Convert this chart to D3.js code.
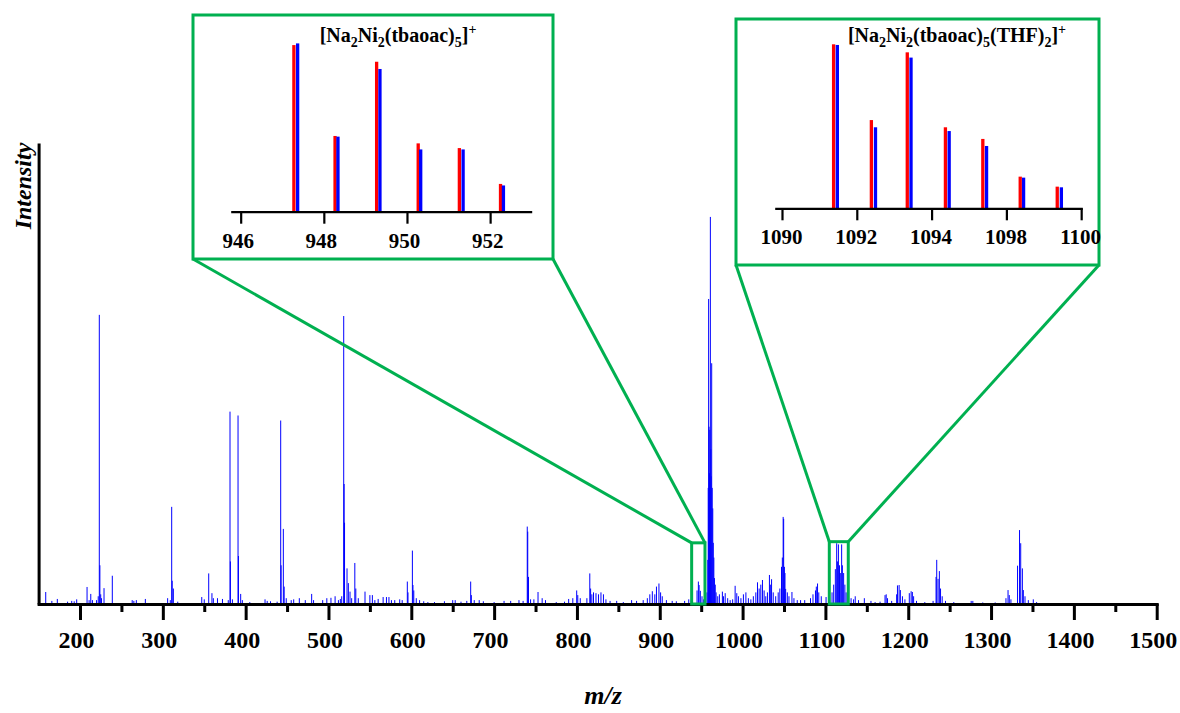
<!DOCTYPE html>
<html><head><meta charset="utf-8">
<script src="https://cdn.jsdelivr.net/npm/d3@7"></script>
<style>
html,body{margin:0;padding:0;background:#fff;}
svg{display:block;}
text{font-family:"Times New Roman","Liberation Serif",serif;font-weight:bold;fill:#000;}
</style></head>
<body>
<script>
// ---------------- DATA ----------------
// Main spectrum: m/z and relative intensity (% of base peak)
const mainMz = [158.6,166,172.6,185,190,193,196,208.5,211,213,215,
220,222,223.3,224,225,226,229,239,263,265,268,278.9,
305.8,309,310.7,311.3,312.7,318,347,350,355.4,359.3,361,366,372,379,
381.1,381.6,384,390.8,391.3,394,396,405,423.4,426,430,438,
442.3,442.8,445.5,446.5,449,455,458,464.8,472,479.7,482,493,498,
503,508,512,514.3,516,518.4,518.9,519.4,522.4,524,526,528,531.8,533,536,544.1,550,553,556,560,566,570,573,576,580,586,589,
595.2,596,601.3,602,603,606,610,615,620,628,640,650,653,660,667,
671.7,672.5,676,682,687,700,712,720,730,735,
740,740.6,741.5,744,748,753,758,762,775,785,790,795,799.7,801,804,812,815.5,816.5,818,820,823,826,829,832,835,840,848,856,866,872,
880,885,888,891,894,896,899,901,903,908,915,920,930,935,938,
945,946.6,947.5,949,951,953,955,957,
958,958.5,959,959.5,960,960.5,961.1,961.6,962,962.7,963.3,964,964.6,965.3,966,967,968,970,972,975.6,977,979,982,985,988,
991,993,995,998,1001,1004,1007,1010,1013,1016,1018,1020,1022,1024,1026,1028,1030,1032.4,1033.5,1035,1037,1040,1043,1045,1047,1048,1049,1049.6,1050.5,1051.2,1052,1054,1056,1059.6,1062,1066,1070,1075,1082,1085,1088,1089,1090.5,1092,1095,1100.8,1104,
1108,1110,1112,1113.6,1114.5,1115.7,1117,1118,1119.6,1120.5,1122,1123.5,1125,1127,
1131,1134,1136,1140,1147,1155,1160,1166,1172,1173.4,1175,1180,1186,1187,1189,1190.5,1193,1196,1201.3,1203.5,1205,1206.5,1210,1220,1230,
1233.6,1234.4,1236,1237.6,1239,1241,1245,1255,1276,1278,1290,1305,1318,1320.5,1322,1324,1332,1334.4,1335.8,1337.8,1339,1341,1345,1351,1355];
const mainInt = [3.1,0.8,1.3,0.6,0.8,0.7,1.2,4.4,1.0,2.6,1.0,
1.0,2.0,74.7,10,2.5,1.5,4.1,7.3,1.0,0.8,1.0,1.3,
1.5,1.0,25.1,6,4,0.6,1.8,1.2,7.9,2.8,1.5,1.5,1.3,1.0,
49.7,11,1.2,48.7,12.4,2.6,1.0,0.5,1.2,0.8,0.7,0.6,
47.4,10,19.4,4.5,1.5,1.0,1.2,1.5,1.0,2.6,1.0,1.0,1.5,
1.6,2.0,1.0,1.3,2.0,74.4,31,21,9.2,5.4,3.2,1.5,10.6,4,1.5,3.2,2.3,2.3,1.0,1.3,1.8,1.8,1.8,1.0,1.0,1.2,1.0,
5.8,3,13.8,4.9,3.5,1.5,1.0,0.7,0.5,0.5,0.7,1.0,1.0,0.6,0.8,
5.8,2.3,1.0,1.0,0.7,0.5,0.8,0.8,1.0,0.8,
20,18.7,7,1.2,1.2,3.1,1.5,1.0,0.5,0.6,1.3,1.5,3.5,2.3,1.5,1.5,7.9,4,2.5,3.0,2.8,2.5,3.0,2.5,1.2,0.8,0.8,0.5,1.0,0.8,
1.0,1.5,2.5,3.3,2.5,4.5,5.3,3.0,2.0,1.0,0.8,0.7,0.8,1.2,1.0,
3.5,5.8,4.9,3.4,2.0,1.2,2.0,3.0,
11.4,30,78.8,45.8,33.8,45,100,40,33,62.2,30,24.7,15.8,12,6.7,5,3,2.0,2.5,3.2,2.0,2.8,1.5,1.0,1.2,
4.7,2.8,2.0,1.5,2.5,3.0,1.5,1.2,2.0,3.0,5.6,4.0,5.0,6.2,3.5,2.0,3.0,7.5,5,6.4,3.0,2.0,3.0,4.0,9.6,12,22.5,22,9.6,8,3.9,3.0,2.0,3.1,1.5,1.0,1.0,1.0,1.5,2.5,3.5,4.5,5.3,3,2.0,1.8,1.0,
3,5,9,15.7,11,15.4,10,8,15.4,10,8,5,3,2,
1.5,1.2,2.0,1.0,1.5,0.8,0.5,0.6,2.3,2.5,1.5,0.8,2.5,4.8,4.9,3.6,2.0,1.2,2.8,3.3,3.1,2.0,0.8,0.5,0.8,
7.0,11.4,6.5,8.5,4,2.0,0.8,0.5,0.8,0.8,0.4,0.4,1.5,3.6,2.3,1.2,9.9,19.1,15.7,9.2,3.6,2.0,1.0,1.2,0.5];

const mainMajorTicks = [200,300,400,500,600,700,800,900,1000,1100,1200,1300,1400,1500];
const mainMinorTicks = [250,350,450,550,650,750,850,950,1050,1150,1250,1350,1450];

// Zoomed regions marked on the main spectrum (m/z range, relative height)
const zoomBoxes = [{lo:938.5, hi:954.6, top:15.8},{lo:1104.7, hi:1127.6, top:16.1}];

// Inset 1: [Na2Ni2(tbaoac)5]+
const inset1RedMz  = [947.28,948.27,949.27,950.27,951.26,952.25];
const inset1RedInt = [99.0,45.0,89.1,40.6,37.8,16.5];
const inset1BlueMz  = [947.37,948.34,949.35,950.33,951.35,952.32];
const inset1BlueInt = [100,44.6,84.8,37.0,37.0,15.6];
const inset1Ticks = [946,948,950,952];
const inset1TickLabels = ["946","948","950","952"];

// Inset 2: [Na2Ni2(tbaoac)5(THF)2]+
const inset2RedMz  = [1091.38,1092.39,1093.35,1094.37,1095.37,1096.37,1097.36];
const inset2RedInt = [100,53.8,95.1,49.4,42.3,19.3,13.2];
const inset2BlueMz  = [1091.48,1092.50,1093.45,1094.47,1095.47,1096.46,1097.47];
const inset2BlueInt = [99.6,49.4,91.9,47.1,38.0,18.7,12.8];
const inset2Ticks = [1090,1092,1094,1096,1098];
const inset2TickLabels = ["1090","1092","1094","1098","1100"];

// ---------------- DRAW ----------------
const W = 1180, H = 713;
const GREEN = "#00B050";
const FONT = '"Times New Roman","Liberation Serif",serif';
const svg = d3.select("body").append("svg").attr("width", W).attr("height", H);

const x = d3.scaleLinear().domain([150,1500]).range([38.6,1156.7]);
const y = d3.scaleLinear().domain([0,119.1]).range([604,143]);

// spectrum lines
svg.append("g").selectAll("line").data(mainMz.map((m,i)=>({m, v:mainInt[i]})))
  .join("line")
  .attr("x1", d=>x(d.m)).attr("x2", d=>x(d.m))
  .attr("y1", y(0)).attr("y2", d=>y(d.v))
  .attr("stroke", "#0000ff").attr("stroke-width", 1);

// x axis
const gx = svg.append("g").attr("transform", `translate(0,${y(0)})`)
  .call(d3.axisBottom(x).tickValues(mainMajorTicks).tickSize(16).tickSizeOuter(0).tickFormat(d=>d));
gx.select(".domain").attr("stroke","#000").attr("stroke-width",3).attr("stroke-linecap","square");
gx.selectAll(".tick line").attr("stroke","#000").attr("stroke-width",3);
gx.selectAll(".tick text").attr("y",44).attr("dy",0).attr("dx",-4)
  .style("font-size","24px").style("font-family",FONT).style("font-weight","bold").attr("fill","#000");
const gxm = svg.append("g").attr("transform", `translate(0,${y(0)})`)
  .call(d3.axisBottom(x).tickValues(mainMinorTicks).tickSize(8).tickSizeOuter(0).tickFormat(""));
gxm.select(".domain").remove();
gxm.selectAll(".tick line").attr("stroke","#000").attr("stroke-width",3);

// y axis (no ticks)
const gy = svg.append("g").attr("transform", `translate(${x(150)},0)`)
  .call(d3.axisLeft(y).tickValues([]).tickSizeOuter(0));
gy.select(".domain").attr("stroke","#000").attr("stroke-width",3);

// axis titles
svg.append("text").attr("transform","translate(31,186) rotate(-90)")
  .attr("text-anchor","middle").style("font-style","italic").style("font-size","24px").text("Intensity");
svg.append("text").attr("x",603).attr("y",704).attr("text-anchor","middle")
  .style("font-style","italic").style("font-size","26px").text("m/z");

// inset layouts
const insets = [
  {box:[193,15,553,259], axisY:211.7, xr:[230.7,531.7], dom:[945.76,953.0], hpx:168.3,
   red:[inset1RedMz,inset1RedInt], blue:[inset1BlueMz,inset1BlueInt],
   ticks:inset1Ticks, labels:inset1TickLabels, ldx:-3, title:{x:398,y:42, parts:[["[Na",0],["2",-1],["Ni",0],["2",-1],["(tbaoac)",0],["5",-1],["]",0],["+",1]]}},
  {box:[736,19,1099,265], axisY:208.3, xr:[774.7,1082.3], dom:[1089.805,1098.03], hpx:164,
   red:[inset2RedMz,inset2RedInt], blue:[inset2BlueMz,inset2BlueInt],
   ticks:inset2Ticks, labels:inset2TickLabels, ldx:-1, title:{x:957,y:42, parts:[["[Na",0],["2",-1],["Ni",0],["2",-1],["(tbaoac)",0],["5",-1],["(THF)",0],["2",-1],["]",0],["+",1]]}}
];

// zoom boxes and connectors
zoomBoxes.forEach((b,i)=>{
  const ins = insets[i];
  const bx0 = x(b.lo), bx1 = x(b.hi), by0 = y(b.top), by1 = y(0);
  svg.append("line").attr("x1",ins.box[0]).attr("y1",ins.box[3]).attr("x2",bx0).attr("y2",by0)
    .attr("stroke",GREEN).attr("stroke-width",3);
  svg.append("line").attr("x1",ins.box[2]).attr("y1",ins.box[3]).attr("x2",bx1).attr("y2",by0)
    .attr("stroke",GREEN).attr("stroke-width",3);
  svg.append("rect").attr("x",bx0).attr("y",by0).attr("width",bx1-bx0).attr("height",by1-by0)
    .attr("fill","none").attr("stroke",GREEN).attr("stroke-width",3);
});

insets.forEach(ins=>{
  const g = svg.append("g");
  g.append("rect").attr("x",ins.box[0]).attr("y",ins.box[1])
    .attr("width",ins.box[2]-ins.box[0]).attr("height",ins.box[3]-ins.box[1])
    .attr("fill","#fff").attr("stroke",GREEN).attr("stroke-width",3);
  const xs = d3.scaleLinear().domain(ins.dom).range(ins.xr);
  const ys = d3.scaleLinear().domain([0,100]).range([ins.axisY, ins.axisY-ins.hpx]);
  const bw = 3.3;
  [[ins.red,"#ff0000"],[ins.blue,"#0000ff"]].forEach(([s,c])=>{
    g.append("g").selectAll("rect").data(s[0].map((m,i)=>({m,v:s[1][i]}))).join("rect")
      .attr("x",d=>xs(d.m)-bw/2).attr("width",bw)
      .attr("y",d=>ys(d.v)).attr("height",d=>ys(0)-ys(d.v)).attr("fill",c);
  });
  const ax = g.append("g").attr("transform",`translate(0,${ins.axisY})`)
    .call(d3.axisBottom(xs).tickValues(ins.ticks).tickSize(12).tickSizeOuter(0)
      .tickFormat((d,i)=>ins.labels[i]));
  ax.select(".domain").attr("stroke","#000").attr("stroke-width",2.2);
  ax.selectAll(".tick line").attr("stroke","#000").attr("stroke-width",2.2);
  ax.selectAll(".tick text").attr("y",36).attr("dy",0).attr("dx",ins.ldx)
    .style("font-size","21px").style("font-family",FONT).style("font-weight","bold").attr("fill","#000");
  const t = g.append("text").attr("x",ins.title.x).attr("y",ins.title.y).attr("text-anchor","middle")
    .style("font-size","20px");
  let cur = 0;
  ins.title.parts.forEach(([s,k])=>{
    const ts = t.append("tspan").text(s);
    const target = k===-1?5:(k===1?-8:0);
    if(k!==0) ts.style("font-size","14px");
    ts.attr("dy", target-cur);
    cur = target;
  });
});
</script>
</body></html>
